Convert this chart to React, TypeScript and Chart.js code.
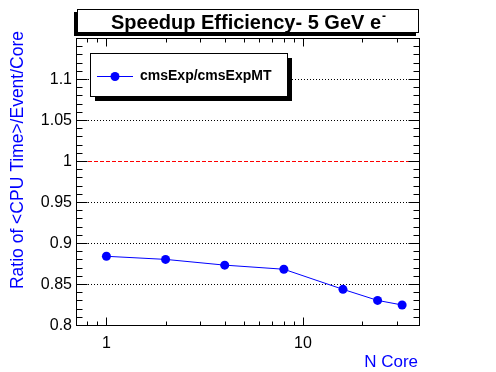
import React, { useEffect, useRef } from "react";
import { Chart, registerables } from "chart.js";

Chart.register(...registerables);

const nCores = [1, 2, 4, 8, 16, 24, 32];
const ratios = [0.8838, 0.880, 0.873, 0.868, 0.8435, 0.830, 0.8244];
const yMajorTicks = [0.8, 0.85, 0.9, 0.95, 1, 1.05, 1.1];
const yTickLabels = ["0.8", "0.85", "0.9", "0.95", "1", "1.05", "1.1"];
const yDottedGrid = [0.85, 0.9, 0.95, 1.05, 1.1];
const yRefLine = 1;
const xMajorTicks = [1, 10];
const xTickLabels = ["1", "10"];
const xMinorTicks = [0.8, 0.9, 2, 3, 4, 5, 6, 7, 8, 9, 20, 30];
const titleText = "Speedup Efficiency- 5 GeV e";
const titleSup = "-";
const legendLabel = "cmsExp/cmsExpMT";
const xTitle = "N Core";
const yTitle = "Ratio of <CPU Time>/Event/Core";

const FONT = "'Liberation Sans', Arial, Helvetica, sans-serif";

const rootPlugin = {
  id: "rootStyle",
  beforeDatasetsDraw(chart: any) {
    const { ctx, chartArea: a, scales } = chart;
    const y = scales.y;
    ctx.save();
    ctx.lineWidth = 1;
    ctx.strokeStyle = "#000";
    ctx.setLineDash([1, 2]);
    yDottedGrid.forEach((v) => {
      const py = Math.round(y.getPixelForValue(v)) + 0.5;
      ctx.beginPath();
      ctx.moveTo(a.left, py);
      ctx.lineTo(a.right, py);
      ctx.stroke();
    });
    ctx.strokeStyle = "#ff0000";
    ctx.setLineDash([4, 2]);
    const pr = Math.round(y.getPixelForValue(yRefLine)) + 0.5;
    ctx.beginPath();
    ctx.moveTo(a.left, pr);
    ctx.lineTo(a.right, pr);
    ctx.stroke();
    ctx.restore();
  },
  afterDraw(chart: any) {
    const { ctx, chartArea: a, scales } = chart;
    const x = scales.x;
    const y = scales.y;
    ctx.save();
    ctx.setLineDash([]);
    ctx.strokeStyle = "#000";
    ctx.lineWidth = 1;
    ctx.strokeRect(Math.round(a.left) + 0.5, Math.round(a.top) + 0.5, Math.round(a.right - a.left), Math.round(a.bottom - a.top));

    const L = Math.round(a.left) + 0.5;
    const R = Math.round(a.right) + 0.5;
    const T = Math.round(a.top) + 0.5;
    const B = Math.round(a.bottom) + 0.5;
    ctx.beginPath();
    const yMin = y.min, yMax = y.max;
    for (let i = 0; ; i++) {
      const v = +(yMin + i * 0.01).toFixed(4);
      if (v > yMax + 1e-9) break;
      const isMajor = Math.abs(v / 0.05 - Math.round(v / 0.05)) < 1e-6;
      const len = isMajor ? 11 : 6;
      const py = Math.round(y.getPixelForValue(v)) + 0.5;
      ctx.moveTo(L, py); ctx.lineTo(L + len, py);
      ctx.moveTo(R, py); ctx.lineTo(R - len, py);
    }
    xMajorTicks.forEach((v) => {
      const px = Math.round(x.getPixelForValue(v)) + 0.5;
      ctx.moveTo(px, B); ctx.lineTo(px, B - 8);
      ctx.moveTo(px, T); ctx.lineTo(px, T + 8);
    });
    xMinorTicks.forEach((v) => {
      const px = Math.round(x.getPixelForValue(v)) + 0.5;
      ctx.moveTo(px, B); ctx.lineTo(px, B - 4);
      ctx.moveTo(px, T); ctx.lineTo(px, T + 4);
    });
    ctx.stroke();

    ctx.fillStyle = "#000";
    ctx.font = `16px ${FONT}`;
    ctx.textAlign = "right";
    ctx.textBaseline = "middle";
    yMajorTicks.forEach((v, i) => {
      ctx.fillText(yTickLabels[i], a.left - 4, y.getPixelForValue(v) + 1);
    });
    ctx.textAlign = "center";
    xMajorTicks.forEach((v, i) => {
      ctx.fillText(xTickLabels[i], x.getPixelForValue(v), 344);
    });

    ctx.fillStyle = "#0000ff";
    ctx.font = `17px ${FONT}`;
    ctx.textAlign = "right";
    ctx.textBaseline = "middle";
    ctx.fillText(xTitle, 418, 362);
    ctx.save();
    ctx.font = `17.5px ${FONT}`;
    ctx.translate(18, 31);
    ctx.rotate(-Math.PI / 2);
    ctx.textAlign = "right";
    ctx.fillText(yTitle, 0, 0);
    ctx.restore();

    ctx.fillStyle = "#000";
    ctx.fillRect(74, 12, 342, 24);
    ctx.fillStyle = "#fff";
    ctx.fillRect(77, 9, 342, 24);
    ctx.strokeStyle = "#000";
    ctx.strokeRect(77.5, 9.5, 341, 23);
    ctx.fillStyle = "#000";
    ctx.font = `bold 20px ${FONT}`;
    ctx.textAlign = "left";
    ctx.textBaseline = "alphabetic";
    const tw = ctx.measureText(titleText).width;
    const sw = ctx.measureText(titleSup).width * 0.6;
    const tx = 248 - (tw + sw) / 2;
    ctx.fillText(titleText, tx, 29);
    ctx.font = `bold 12px ${FONT}`;
    ctx.fillText(titleSup, tx + tw + 1, 20);

    ctx.fillStyle = "#000";
    ctx.fillRect(95, 58, 197, 43);
    ctx.fillStyle = "#fff";
    ctx.fillRect(90, 53, 197, 43);
    ctx.strokeRect(90.5, 53.5, 197, 43);
    ctx.strokeStyle = "#0000ff";
    ctx.lineWidth = 1;
    ctx.beginPath();
    ctx.moveTo(97, 76.5);
    ctx.lineTo(133, 76.5);
    ctx.stroke();
    ctx.fillStyle = "#0000ff";
    ctx.beginPath();
    ctx.arc(115, 76.5, 4.5, 0, Math.PI * 2);
    ctx.fill();
    ctx.fillStyle = "#000";
    ctx.font = `bold 14px ${FONT}`;
    ctx.textBaseline = "middle";
    ctx.textAlign = "left";
    ctx.fillText(legendLabel, 140, 76);
    ctx.restore();
  },
};

export default function App() {
  const ref = useRef<HTMLCanvasElement | null>(null);
  useEffect(() => {
    if (!ref.current) return;
    const chart = new Chart(ref.current, {
      type: "line",
      data: {
        datasets: [
          {
            label: legendLabel,
            data: nCores.map((c, i) => ({ x: c, y: ratios[i] })),
            borderColor: "#0000ff",
            backgroundColor: "#0000ff",
            borderWidth: 1,
            pointRadius: 4.5,
            pointBorderWidth: 0,
            pointHoverRadius: 4.5,
            tension: 0,
            fill: false,
          },
        ],
      },
      options: {
        animation: false,
        responsive: false,
        maintainAspectRatio: false,
        events: [],
        layout: { padding: { left: 76, right: 77, top: 38, bottom: 47 } },
        plugins: { legend: { display: false }, tooltip: { enabled: false }, title: { display: false } },
        scales: {
          x: { type: "logarithmic", min: 0.7, max: 39, display: false },
          y: { type: "linear", min: 0.8, max: 1.15, display: false },
        },
      },
      plugins: [rootPlugin],
    });
    return () => chart.destroy();
  }, []);
  return (
    <div style={{ position: "fixed", left: 0, top: 0, width: 496, height: 372, background: "#fff" }}>
      <canvas ref={ref} width={496} height={372} style={{ width: 496, height: 372, display: "block" }} />
    </div>
  );
}
